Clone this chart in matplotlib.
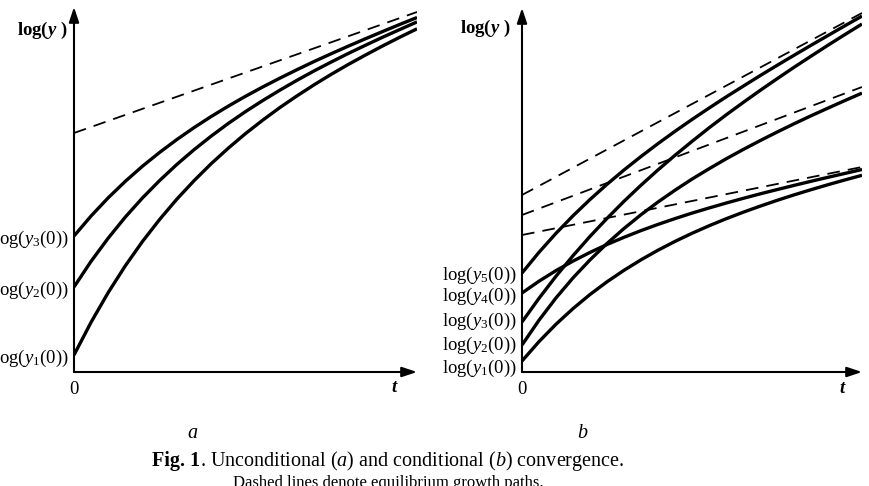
import matplotlib
matplotlib.use("Agg")
import matplotlib.pyplot as plt

plt.rcParams.update({
    "font.family": "Liberation Serif",
    "font.size": 13.5,
    "mathtext.fontset": "custom",
    "mathtext.rm": "Liberation Serif",
    "mathtext.it": "Liberation Serif:italic",
    "mathtext.bf": "Liberation Serif:bold",
    "mathtext.bfit": "Liberation Serif:bold:italic",
})

# time grid (arbitrary units) and paths
t = [0, 0.5, 1, 1.5, 2, 2.5, 3, 3.5, 4, 4.5, 5,
     5.5, 6, 6.5, 7, 7.5, 8, 8.5, 9, 9.5, 10]
path_t = [0, 10]

# panel a: one equilibrium path, three economies
a_path = [239, 360]
a_y3 = [136, 156.1, 174.3, 190.8, 205.9, 219.7, 232.5, 244.4, 255.5, 265.9, 275.7,
        285.0, 293.8, 302.3, 310.5, 318.3, 325.9, 333.3, 340.5, 347.6, 354.5]
a_y2 = [85, 110.8, 134.0, 155.1, 174.2, 191.6, 207.6, 222.3, 235.9, 248.6, 260.4,
        271.4, 281.8, 291.7, 301.1, 310.0, 318.6, 326.8, 334.8, 342.5, 350.1]
a_y1 = [17, 49.9, 79.6, 106.4, 130.7, 152.7, 172.9, 191.3, 208.3, 223.9, 238.4,
        251.8, 264.4, 276.1, 287.2, 297.7, 307.6, 317.0, 326.1, 334.8, 343.2]
a_labels = ["3", "2", "1"]

# panel b: three equilibrium paths, five economies
b_path_hi = [177, 359]
b_path_mid = [157, 285]
b_path_lo = [137, 205]
b_y5 = [99, 119.7, 138.7, 156.2, 172.5, 187.7, 202.0, 215.5, 228.4, 240.7, 252.5,
        263.9, 275.0, 285.7, 296.3, 306.6, 316.7, 326.7, 336.5, 346.3, 355.9]
b_y4 = [79, 90.8, 101.4, 110.9, 119.6, 127.5, 134.7, 141.4, 147.6, 153.4, 158.9,
        164.0, 168.9, 173.6, 178.1, 182.4, 186.6, 190.7, 194.7, 198.6, 202.5]
b_y3 = [50, 73.7, 95.8, 116.3, 135.6, 153.6, 170.7, 186.8, 202.1, 216.7, 230.6,
        244.1, 257.0, 269.4, 281.5, 293.2, 304.7, 315.8, 326.8, 337.5, 348.0]
b_y2 = [27, 51.8, 74.1, 94.1, 112.1, 128.5, 143.5, 157.3, 170.0, 181.8, 192.9,
        203.2, 213.1, 222.4, 231.3, 239.9, 248.2, 256.2, 263.9, 271.5, 278.9]
b_y1 = [11, 30.4, 47.8, 63.4, 77.5, 90.2, 101.7, 112.2, 121.8, 130.6, 138.7,
        146.2, 153.2, 159.7, 165.8, 171.6, 177.1, 182.3, 187.3, 192.1, 196.7]
b_labels = ["5", "4", "3", "2", "1"]

W, H = 869, 486
fig = plt.figure(figsize=(W / 100, H / 100), dpi=100)
ax_a = fig.add_axes([74 / W, 114 / H, 343 / W, 365 / H])
ax_b = fig.add_axes([522 / W, 114 / H, 340 / W, 364 / H])

solid = dict(color="black", lw=2.4, solid_capstyle="butt")
dashed = dict(color="black", lw=1.3, linestyle=(0, (7, 4.5)))


def setup(ax, top, ticks, labels, logy_off, t_off):
    ax.set_xlim(0, 10)
    ax.set_ylim(0, top)
    for s in ax.spines.values():
        s.set_visible(False)
    ax.patch.set_visible(False)
    arrow = dict(arrowstyle="-|>,head_length=0.9,head_width=0.3",
                 mutation_scale=10, lw=1.5, color="black",
                 shrinkA=0, shrinkB=0)
    ax.annotate("", xy=(10, 0), xytext=(0, 0), arrowprops=arrow,
                annotation_clip=False)
    ax.annotate("", xy=(0, top), xytext=(0, 0), arrowprops=arrow,
                annotation_clip=False)
    ax.set_xticks([0])
    ax.set_xticklabels(["0"])
    ax.set_yticks(ticks)
    ax.set_yticklabels([r"log($y_{%s}$(0))" % s for s in labels])
    ax.tick_params(axis="x", length=0, pad=6.5)
    ax.tick_params(axis="y", length=0, pad=4)
    ax.annotate(r"$\mathbf{log(}\mathbfit{y}\mathbf{\ )}$", xy=(0, 1),
                xycoords="axes fraction", xytext=logy_off,
                textcoords="offset pixels", ha="right", va="center")
    ax.annotate(r"$\mathbfit{t}$", xy=(1, 0), xycoords="axes fraction",
                xytext=t_off, textcoords="offset pixels",
                ha="center", va="center")


# panel a
ax_a.plot(path_t, a_path, **dashed)
for y in (a_y3, a_y2, a_y1):
    ax_a.plot(t, y, **solid)
setup(ax_a, 365, [a_y3[0], a_y2[0], a_y1[0]], a_labels, (-7, -23), (-22, -15))

# panel b (labels are spread a little so they do not collide)
for p in (b_path_hi, b_path_mid, b_path_lo):
    ax_b.plot(path_t, p, **dashed)
for y in (b_y5, b_y4, b_y3, b_y2, b_y1):
    ax_b.plot(t, y, **solid)
setup(ax_b, 364, [100, 79, 54, 30, 7], b_labels, (-12, -20), (-19, -16))

fig.text(193 / W, 1 - 433 / H, "$a$", ha="center", va="center", fontsize=14.5)
fig.text(583 / W, 1 - 433 / H, "$b$", ha="center", va="center", fontsize=14.5)

# caption: bold "Fig. 1" followed by the rest of the sentence on the same baseline
cap_y = 1 - 466 / H
cap1 = fig.text(152 / W, cap_y, "Fig. 1", fontweight="bold",
                ha="left", va="baseline", fontsize=14.5)
fig.add_artist(plt.Annotation(
    ". Unconditional ($a$) and conditional ($b$) convergence.",
    xy=(1, cap_y), xycoords=(cap1, "figure fraction"),
    ha="left", va="baseline", fontsize=14.5, annotation_clip=False))
fig.text(388 / W, 1 - 487 / H, "Dashed lines denote equilibrium growth paths.",
         ha="center", va="baseline", fontsize=12)

fig.savefig("out.png", dpi=100)
